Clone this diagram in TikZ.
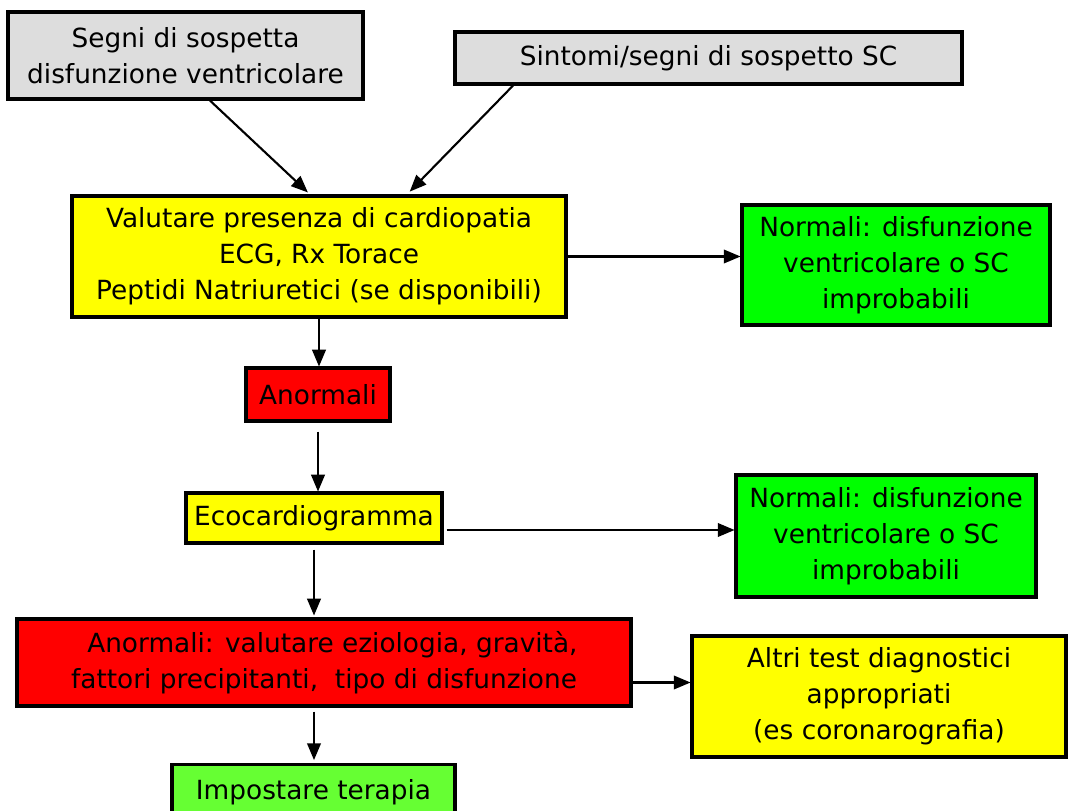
\documentclass[tikz,border=0pt]{standalone}
\usepackage{fontspec}
\setmainfont{DejaVu Sans}
\usepackage{tikz}
\usetikzlibrary{arrows,calc,positioning}

\definecolor{grigio}{RGB}{221,221,221}
\definecolor{giallo}{RGB}{255,255,0}
\definecolor{rosso}{RGB}{255,0,0}
\definecolor{verde}{RGB}{0,255,0}
\definecolor{verdechiaro}{RGB}{102,255,51}

\tikzset{
    box/.style = {rectangle, draw = black, line width = 1.8pt, align = center,
                  inner sep = 2pt, font = \fontsize{15}{20.5}\selectfont},
    freccia/.style = {->, black, line width = 1.2pt}
}

\begin{document}
\begin{tikzpicture}[>=triangle 45, x=0.02cm, y=-0.02cm]
            \useasboundingbox (0,0) rectangle (1090,811);
                \node[box, fill = grigio, minimum width = 7.1cm, minimum height = 1.74cm] (segni) at (185.5,55.5)
                    {Segni di sospetta\\disfunzione ventricolare};
                \node[box, fill = grigio, minimum width = 10.14cm, minimum height = 1.04cm] (sintomi) at (708.5,58)
                    {Sintomi/segni di sospetto SC};
                \node[box, fill = giallo, minimum width = 9.88cm, minimum height = 2.42cm] (valutare) at (319,256.5)
                    {Valutare presenza di cardiopatia\\ECG, Rx Torace\\Peptidi Natriuretici (se disponibili)};
                \node[box, fill = verde, minimum width = 6.16cm, minimum height = 2.4cm] (normali) at (896,265)
                    {Normali: disfunzione\\ventricolare o SC\\improbabili};
                \node[box, fill = rosso, minimum width = 2.88cm, minimum height = 1.06cm] (anormali) at (318,394.5)
                    {Anormali};
                \node[box, fill = giallo, minimum width = 5.12cm, minimum height = 1cm] (eco) at (314,518)
                    {Ecocardiogramma};
                \node[box, fill = verde, minimum width = 6cm, minimum height = 2.44cm] (normalieco) at (886,536)
                    {Normali: disfunzione\\ventricolare o SC\\improbabili};
                \node[box, fill = rosso, minimum width = 12.28cm, minimum height = 1.74cm] (eziologia) at (324,662.5)
                    {\ \ Anormali: valutare eziologia, gravità,\\fattori precipitanti, \ tipo di disfunzione};
                \node[box, fill = giallo, minimum width = 7.48cm, minimum height = 2.42cm] (altri) at (879,696.5)
                    {Altri test diagnostici\\appropriati\\(es coronarografia)};
                \node[box, fill = verdechiaro, minimum width = 5.66cm, minimum height = 1.1cm, anchor = north] (terapia) at (313.5,763)
                    {Impostare terapia};

                \draw[freccia, shorten > = 0.06cm] ([xshift = 0.49cm]segni.south) -- ([xshift = -0.18cm]valutare.north);
                \draw[freccia, shorten > = 0.08cm] ([xshift = -3.91cm]sintomi.south) -- ([xshift = 1.76cm]valutare.north);
                \draw[freccia] (valutare.east) -- (valutare.east -| normali.west);
                \draw[freccia] (valutare.south) -- (valutare.south |- anormali.north);
                \draw[freccia, shorten < = 0.18cm] (anormali.south) -- (anormali.south |- eco.north);
                \draw[freccia, shorten < = 0.06cm] ([yshift = -0.24cm]eco.east) -- ([yshift = -0.24cm]eco.east -| normalieco.west);
                \draw[freccia, shorten < = 0.1cm, shorten > = 0.04cm] (eco.south) -- (eco.south |- eziologia.north);
                \draw[freccia] ([yshift = -0.4cm]eziologia.east) -- ([yshift = -0.4cm]eziologia.east -| altri.west);
                \draw[freccia, shorten < = 0.08cm, shorten > = 0.06cm] (eco.south |- eziologia.south) -- (eco.south |- terapia.north);

        \end{tikzpicture}
\end{document}
